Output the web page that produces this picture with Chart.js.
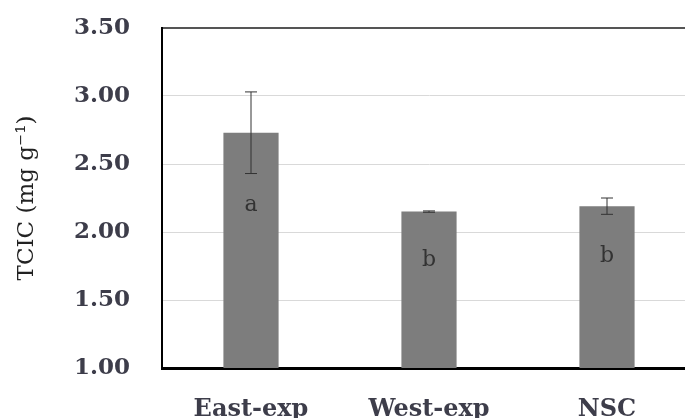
<!DOCTYPE html>
<html>
<head>
<meta charset="utf-8">
<script src="https://cdn.jsdelivr.net/npm/chart.js@4"></script>
<style>
  html, body { margin: 0; padding: 0; background: #fff; overflow: hidden; }
  #wrap { width: 705px; height: 418px; }
</style>
</head>
<body>
<div id="wrap"><canvas id="chart"></canvas></div>
<script>
const sites = ["East-exp", "West-exp", "NSC"];
const tcic = [2.73, 2.15, 2.19];
const tcicErr = [0.30, 0.005, 0.06];
const letters = ["a", "b", "b"];

const errorBars = {
  id: "errorBars",
  afterDatasetsDraw(chart) {
    const { ctx, scales: { x, y } } = chart;
    const base = y.getPixelForValue(y.min);
    ctx.save();
    tcic.forEach((v, i) => {
      const cx = x.getPixelForValue(i);
      const barTop = y.getPixelForValue(v);
      const top = y.getPixelForValue(v + tcicErr[i]);
      const bot = y.getPixelForValue(v - tcicErr[i]);
      ctx.strokeStyle = "#333";
      ctx.lineWidth = 1;
      ctx.beginPath();
      ctx.moveTo(cx, top); ctx.lineTo(cx, bot);
      ctx.moveTo(cx - 6, top); ctx.lineTo(cx + 6, top);
      ctx.moveTo(cx - 6, bot); ctx.lineTo(cx + 6, bot);
      ctx.stroke();
      ctx.fillStyle = "#333";
      ctx.font = "22px 'DejaVu Serif'";
      ctx.textAlign = "center";
      ctx.textBaseline = "middle";
      ctx.fillText(letters[i], cx, barTop + (base - barTop) * 0.31);
    });
    ctx.restore();
  }
};

new Chart(document.getElementById("chart"), {
  type: "bar",
  data: {
    labels: sites,
    datasets: [{
      data: tcic,
      backgroundColor: "#7d7d7d",
      barPercentage: 0.31,
      categoryPercentage: 1
    }]
  },
  options: {
    responsive: true,
    maintainAspectRatio: false,
    animation: false,
    layout: { padding: { top: 28, right: 9, left: 0, bottom: 0 } },
    plugins: { legend: { display: false }, tooltip: { enabled: false } },
    scales: {
      x: {
        grid: { display: false, drawTicks: false },
        border: { color: "#000", width: 3 },
        ticks: {
          color: "#3d3d4a",
          padding: 27,
          font: { family: "DejaVu Serif", size: 24, weight: "bold" }
        },
        afterFit(s) { s.height = 50; }
      },
      y: {
        min: 1, max: 3.5,
        grid: {
          drawTicks: true,
          tickLength: 32,
          tickColor: "rgba(0,0,0,0)",
          color: ctx => ctx.tick && ctx.tick.value === 3.5 ? "#555" : "#d9d9d9",
          lineWidth: ctx => ctx.tick && ctx.tick.value === 3.5 ? 2 : 1
        },
        border: { color: "#000", width: 2 },
        ticks: {
          stepSize: 0.5,
          padding: 0,
          color: "#3d3d4a",
          font: { family: "DejaVu Serif", size: 23, weight: "bold" },
          callback: v => v.toFixed(2)
        },
        title: {
          display: true,
          text: "TCIC (mg g⁻¹)",
          color: "#222",
          padding: { top: 13, bottom: 0 },
          font: { family: "DejaVu Serif", size: 23 }
        },
        afterFit(s) { s.width = 162; }
      }
    }
  },
  plugins: [errorBars]
});
</script>
</body>
</html>
